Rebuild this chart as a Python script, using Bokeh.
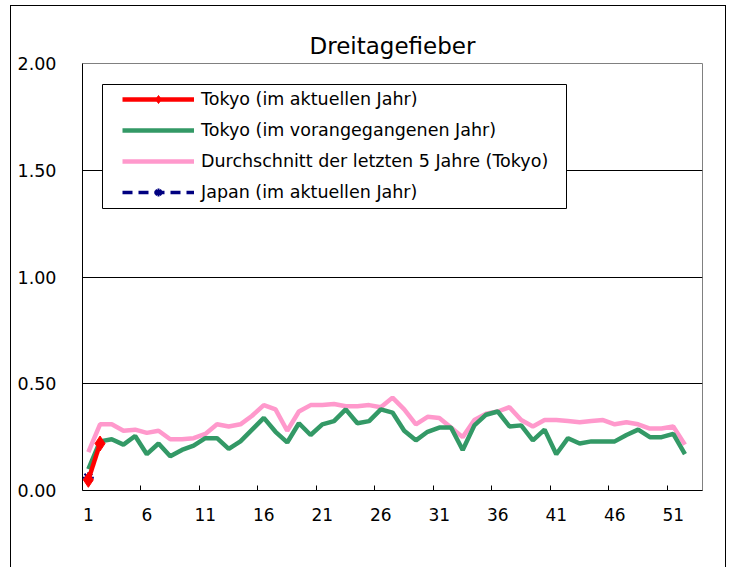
from bokeh.plotting import figure
from bokeh.models import FixedTicker, Legend, LegendItem, NumeralTickFormatter, Range1d, BoxAnnotation
from bokeh.embed import file_html
from bokeh.resources import INLINE

weeks = list(range(1, 53))
avg5_tokyo = [0.18, 0.31, 0.31, 0.28, 0.285, 0.27, 0.28, 0.24, 0.24, 0.245,
              0.265, 0.31, 0.30, 0.31, 0.35, 0.40, 0.38, 0.28, 0.37, 0.40,
              0.40, 0.405, 0.395, 0.395, 0.40, 0.39, 0.435, 0.38, 0.31, 0.345,
              0.34, 0.295, 0.25, 0.33, 0.36, 0.37, 0.39, 0.33, 0.30, 0.33,
              0.33, 0.325, 0.32, 0.325, 0.33, 0.31, 0.32, 0.31, 0.29, 0.29,
              0.30, 0.215]
prev_tokyo = [0.10, 0.23, 0.24, 0.215, 0.255, 0.17, 0.22, 0.16, 0.19, 0.21,
              0.245, 0.245, 0.195, 0.23, 0.285, 0.34, 0.275, 0.225, 0.315, 0.26,
              0.31, 0.325, 0.38, 0.315, 0.325, 0.38, 0.365, 0.28, 0.235, 0.275,
              0.295, 0.295, 0.19, 0.305, 0.355, 0.37, 0.30, 0.305, 0.235, 0.285,
              0.17, 0.245, 0.22, 0.23, 0.23, 0.23, 0.26, 0.285, 0.25, 0.25,
              0.265, 0.17]
cur_weeks = [1, 2]
cur_tokyo = [0.05, 0.22]
japan_weeks = [1]
japan_cur = [0.06]
x_tick_labels = [1, 6, 11, 16, 21, 26, 31, 36, 41, 46, 51]
y_ticks = [0, 0.5, 1.0, 1.5, 2.0]

FONT = "DejaVu Sans"

p = figure(width=716, height=562, output_backend="svg", toolbar_location=None,
           x_range=Range1d(0.5, 53.5), y_range=Range1d(0, 2),
           min_border_left=71, min_border_right=25, min_border_top=57,
           min_border_bottom=78, title="Dreitagefieber")
p.styles = {"margin-left": "10px", "margin-top": "5px",
            "border-left": "1px solid black", "border-top": "1px solid black",
            "border-right": "1px solid black"}

p.title.align = "center"
p.title.text_font = FONT
p.title.text_font_size = "23px"
p.title.text_font_style = "normal"
p.title.text_color = "black"

p.outline_line_color = "#808080"
p.outline_line_width = 1
p.background_fill_color = "white"
p.border_fill_color = "white"

p.xgrid.visible = False
p.ygrid.grid_line_color = "black"
p.ygrid.grid_line_width = 1
p.ygrid.ticker = FixedTicker(ticks=y_ticks)

p.xaxis.ticker = FixedTicker(ticks=x_tick_labels,
                             minor_ticks=[t + 4.5 for t in x_tick_labels])
p.xaxis.major_tick_out = 0
p.xaxis.major_tick_in = 0
p.xaxis.minor_tick_in = 5
p.xaxis.minor_tick_out = 0
p.xaxis.minor_tick_line_color = "black"
p.xaxis.axis_line_color = "black"
p.xaxis.major_label_standoff = 17
p.xaxis.major_label_text_font = FONT
p.xaxis.major_label_text_font_size = "17px"
p.xaxis.major_label_text_color = "black"

p.yaxis.ticker = FixedTicker(ticks=y_ticks)
p.yaxis.formatter = NumeralTickFormatter(format="0.00")
p.yaxis.major_tick_out = 0
p.yaxis.major_tick_in = 0
p.yaxis.minor_tick_in = 0
p.yaxis.minor_tick_out = 0
p.yaxis.axis_line_color = "black"
p.yaxis.major_label_standoff = 26
p.yaxis.major_label_text_font = FONT
p.yaxis.major_label_text_font_size = "17.5px"
p.yaxis.major_label_text_color = "black"

pink = "#FF99CC"
green = "#339966"
red = "#FF0000"
navy = "#000080"

r_pink = p.line(weeks, avg5_tokyo, line_color=pink, line_width=4.5)
r_green = p.line(weeks, prev_tokyo, line_color=green, line_width=4.5)
r_japan_l = p.line(japan_weeks, japan_cur, line_color=navy, line_width=3.5, line_dash="10 6")
r_japan_m = p.scatter(japan_weeks, japan_cur, marker="asterisk", size=11,
                      line_color=navy, line_width=2)
r_red_l = p.line(cur_weeks, cur_tokyo, line_color=red, line_width=4.5)
r_red_m = p.scatter(cur_weeks, cur_tokyo, marker="diamond", size=15,
                    fill_color=red, line_color=red)

# legend frame (screen units, relative to the plot frame, y upward)
legend_box = BoxAnnotation(left=20, right=484, bottom=282, top=406,
                           left_units="screen", right_units="screen",
                           top_units="screen", bottom_units="screen",
                           fill_color="white", fill_alpha=1,
                           line_color="black", line_width=1, line_alpha=1)
p.add_layout(legend_box)

legend = Legend(items=[
    LegendItem(label="Tokyo (im aktuellen Jahr)", renderers=[r_red_l, r_red_m]),
    LegendItem(label="Tokyo (im vorangegangenen Jahr)", renderers=[r_green]),
    LegendItem(label="Durchschnitt der letzten 5 Jahre (Tokyo)", renderers=[r_pink]),
    LegendItem(label="Japan (im aktuellen Jahr)", renderers=[r_japan_l, r_japan_m]),
], location=(40, 288))
legend.border_line_alpha = 0
legend.background_fill_alpha = 0
legend.label_text_font = FONT
legend.label_text_font_size = "17.5px"
legend.label_text_color = "black"
legend.glyph_width = 72
legend.glyph_height = 20
legend.label_height = 20
legend.spacing = 11
legend.padding = 0
legend.margin = 0
legend.label_standoff = 7
p.add_layout(legend)

open("out.html", "w").write(file_html(p, INLINE))
